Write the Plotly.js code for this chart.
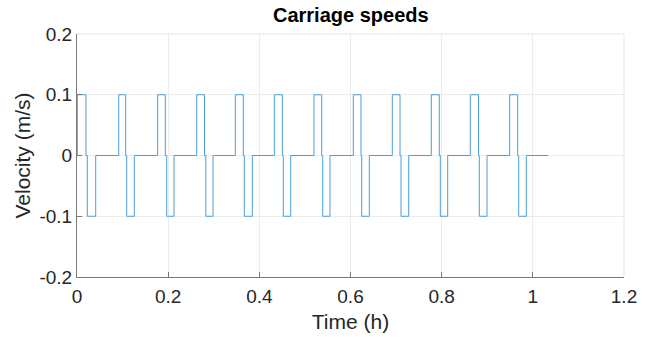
<!DOCTYPE html>
<html>
<head>
<meta charset="utf-8">
<script src="https://cdn.plot.ly/plotly-3.0.1.min.js"></script>
<style>
html,body{margin:0;padding:0;background:#fff;}
#chart{width:649px;height:340px;}
</style>
</head>
<body>
<div id="chart"></div>
<script>
// Switching times (h) and the velocity (m/s) held from each time on (step-after)
var timeH = [
  0.0000,
  0.0007, 0.0197, 0.0226, 0.0410,
  0.0915, 0.1068, 0.1090, 0.1257,
  0.1770, 0.1937, 0.1968, 0.2128,
  0.2626, 0.2797, 0.2826, 0.2984,
  0.3473, 0.3648, 0.3670, 0.3846,
  0.4328, 0.4504, 0.4526, 0.4688,
  0.5199, 0.5368, 0.5390, 0.5550,
  0.6062, 0.6230, 0.6246, 0.6413,
  0.6917, 0.7086, 0.7108, 0.7277,
  0.7773, 0.7948, 0.7970, 0.8132,
  0.8628, 0.8808, 0.8826, 0.8995,
  0.9493, 0.9668, 0.9690, 0.9857,
  1.0340
];
var velocity = [
  0,
  0.1, 0, -0.1, 0,
  0.1, 0, -0.1, 0,
  0.1, 0, -0.1, 0,
  0.1, 0, -0.1, 0,
  0.1, 0, -0.1, 0,
  0.1, 0, -0.1, 0,
  0.1, 0, -0.1, 0,
  0.1, 0, -0.1, 0,
  0.1, 0, -0.1, 0,
  0.1, 0, -0.1, 0,
  0.1, 0, -0.1, 0,
  0.1, 0, -0.1, 0,
  0
];
var xTickVals = [0, 0.2, 0.4, 0.6, 0.8, 1, 1.2];
var xTickText = ["0", "0.2", "0.4", "0.6", "0.8", "1", "1.2"];
var yTickVals = [-0.2, -0.1, 0, 0.1, 0.2];
var yTickText = ["-0.2", "-0.1", "0", "0.1", "0.2"];

var font = "Liberation Sans, Arial, Helvetica, sans-serif";

var trace = {
  x: timeH,
  y: velocity,
  type: "scatter",
  mode: "lines",
  line: {shape: "hv", color: "#4a9fd8", width: 1},
  hoverinfo: "skip"
};

var layout = {
  width: 649,
  height: 340,
  margin: {l: 77, r: 25, t: 34, b: 63, pad: 0},
  paper_bgcolor: "#ffffff",
  plot_bgcolor: "#ffffff",
  showlegend: false,
  title: {
    text: "<b>Carriage speeds</b>",
    font: {family: font, size: 20, color: "#000000"},
    x: 0.5405, xanchor: "center",
    y: 0.955, yanchor: "middle"
  },
  xaxis: {
    range: [0, 1.2],
    tickvals: xTickVals,
    ticktext: xTickText,
    ticks: "inside",
    ticklen: 5,
    tickcolor: "#7a7a7a",
    tickwidth: 1,
    ticklabelstandoff: 2,
    showline: true,
    linecolor: "#7a7a7a",
    linewidth: 1,
    showgrid: true,
    gridcolor: "#ececec",
    gridwidth: 1,
    zeroline: false,
    tickfont: {family: font, size: 19, color: "#262626"},
    title: {text: "Time (h)", font: {family: font, size: 21, color: "#262626"}, standoff: 8},
    fixedrange: true
  },
  yaxis: {
    range: [-0.2, 0.2],
    tickvals: yTickVals,
    ticktext: yTickText,
    ticks: "inside",
    ticklen: 5,
    tickcolor: "#7a7a7a",
    tickwidth: 1,
    showline: true,
    linecolor: "#7a7a7a",
    linewidth: 1,
    showgrid: true,
    gridcolor: "#ececec",
    gridwidth: 1,
    zeroline: false,
    tickfont: {family: font, size: 19, color: "#262626"},
    title: {text: "Velocity (m/s)", font: {family: font, size: 21, color: "#262626"}, standoff: 3},
    fixedrange: true
  },
  shapes: [
    {type: "line", xref: "paper", yref: "paper", x0: 0, x1: 1, y0: 1, y1: 1, line: {color: "#e6e6e6", width: 1}},
    {type: "line", xref: "paper", yref: "paper", x0: 1, x1: 1, y0: 0, y1: 1, line: {color: "#e6e6e6", width: 1}}
  ]
};

Plotly.newPlot("chart", [trace], layout, {displayModeBar: false, staticPlot: true});
</script>
</body>
</html>
